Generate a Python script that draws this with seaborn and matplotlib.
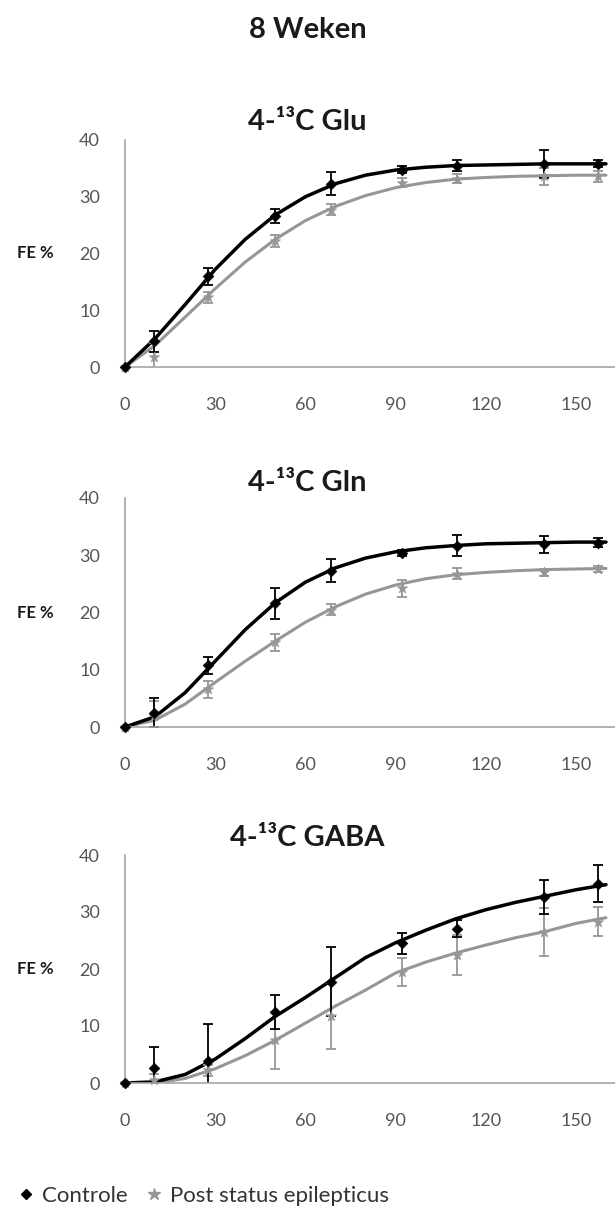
import matplotlib
matplotlib.use("Agg")
import matplotlib.pyplot as plt
import numpy as np
import seaborn as sns
from matplotlib.lines import Line2D

# measured time points (min) and fitted-curve grid
times = [0, 9.5, 27.5, 50, 68.5, 92, 110.5, 139.5, 157.5]
fit_t = [0, 10, 20, 30, 40, 50, 60, 70, 80, 90, 100, 110, 120, 130, 140, 150, 160]

# 4-13C Glu
glu_ctrl = [0, 4.5, 16.0, 26.6, 32.3, 34.8, 35.5, 35.8, 35.8]
glu_ctrl_err = [0, 1.8, 1.5, 1.2, 2.0, 0.6, 1.0, 2.5, 0.6]
glu_pse = [0, 1.8, 12.3, 22.2, 27.7, 32.5, 33.2, 33.6, 33.6]
glu_pse_err = [0, 2.5, 1.0, 1.0, 1.0, 0.8, 0.8, 1.5, 1.0]
glu_ctrl_fit = [0, 5.0, 11.0, 17.2, 22.5, 26.8, 30.0, 32.3, 33.8, 34.7, 35.2, 35.5, 35.6, 35.7, 35.8, 35.8, 35.8]
glu_pse_fit = [0, 3.8, 8.8, 13.8, 18.5, 22.5, 25.8, 28.3, 30.2, 31.6, 32.5, 33.1, 33.4, 33.6, 33.7, 33.8, 33.8]

# 4-13C Gln
gln_ctrl = [0, 2.5, 10.8, 21.6, 27.3, 30.4, 31.7, 31.9, 32.2]
gln_ctrl_err = [0, 2.5, 1.5, 2.7, 2.0, 0.5, 1.8, 1.5, 0.8]
gln_pse = [0, 2.0, 6.6, 14.8, 20.5, 24.2, 26.8, 27.0, 27.6]
gln_pse_err = [0, 2.5, 1.5, 1.5, 1.0, 1.5, 1.0, 0.6, 0.6]
gln_ctrl_fit = [0, 1.8, 6.0, 11.5, 17.0, 21.7, 25.3, 27.8, 29.5, 30.6, 31.3, 31.7, 32.0, 32.1, 32.2, 32.3, 32.3]
gln_pse_fit = [0, 1.2, 4.0, 7.8, 11.5, 15.0, 18.3, 21.0, 23.2, 24.8, 25.9, 26.6, 27.0, 27.3, 27.5, 27.6, 27.7]

# 4-13C GABA
gaba_ctrl = [0, 2.6, 3.8, 12.5, 17.8, 24.5, 27.1, 32.7, 35.0]
gaba_ctrl_err = [0, 3.8, 6.6, 3.0, 6.0, 1.8, 1.5, 3.0, 3.2]
gaba_pse = [0, 0.5, 2.2, 7.5, 11.8, 19.5, 22.5, 26.5, 28.3]
gaba_pse_err = [0, 1.0, 1.0, 5.0, 5.8, 2.5, 3.5, 4.2, 2.5]
gaba_ctrl_fit = [0, 0.2, 1.5, 4.2, 7.8, 11.7, 15.0, 18.5, 22.0, 24.6, 26.8, 28.8, 30.4, 31.7, 32.8, 33.9, 34.8]
gaba_pse_fit = [0, 0.0, 0.8, 2.5, 4.8, 7.5, 10.5, 13.5, 16.3, 19.3, 21.2, 22.8, 24.2, 25.5, 26.6, 28.0, 29.0]

panel_titles = ["4-\u00b9\u00b3C Glu", "4-\u00b9\u00b3C Gln", "4-\u00b9\u00b3C GABA"]
series_names = ["Controle", "Post status epilepticus"]
x_ticks = [0, 30, 60, 90, 120, 150]
y_ticks = [0, 10, 20, 30, 40]

panels = [
    (glu_ctrl, glu_ctrl_err, glu_pse, glu_pse_err, glu_ctrl_fit, glu_pse_fit),
    (gln_ctrl, gln_ctrl_err, gln_pse, gln_pse_err, gln_ctrl_fit, gln_pse_fit),
    (gaba_ctrl, gaba_ctrl_err, gaba_pse, gaba_pse_err, gaba_ctrl_fit, gaba_pse_fit),
]

sns.set_style("white")
plt.rcParams["font.family"] = ["Lato", "DejaVu Sans"]

BLACK = "#000000"
GREY = "#969696"
AXIS = "#a6a6a6"
TICKTXT = "#555555"
TXT = "#1a1a1a"

W, H = 615, 1209
fig = plt.figure(figsize=(W / 100, H / 100), dpi=100)

# axes boxes in pixels: (top, bottom)
boxes = [(140, 367), (498, 727), (855, 1083)]
title_y = [122, 483, 838]
left, right = 125, 615

fig.text(0.5, 1 - 30 / H, "8 Weken", ha="center", va="center",
         fontsize=21, fontweight="bold", color=TXT)

for (top, bot), ty, name, data in zip(boxes, title_y, panel_titles, panels):
    ctrl, ctrl_err, pse, pse_err, ctrl_fit, pse_fit = data
    ax = fig.add_axes([left / W, 1 - bot / H, (right - left) / W, (bot - top) / H])

    sns.lineplot(x=fit_t, y=pse_fit, color=GREY, lw=2.2, ax=ax)
    sns.lineplot(x=fit_t, y=ctrl_fit, color=BLACK, lw=2.5, ax=ax)
    ax.errorbar(times, pse, yerr=pse_err, fmt="none", ecolor=GREY,
                elinewidth=1.3, capsize=3.5, capthick=1.3)
    ax.errorbar(times, ctrl, yerr=ctrl_err, fmt="none", ecolor=BLACK,
                elinewidth=1.3, capsize=3.5, capthick=1.3)
    sns.scatterplot(x=times, y=pse, marker="*", s=60, color=GREY,
                    edgecolor=GREY, linewidth=0.5, ax=ax, clip_on=False, zorder=4)
    sns.scatterplot(x=times, y=ctrl, marker="D", s=30, color=BLACK,
                    edgecolor=BLACK, ax=ax, clip_on=False, zorder=5)

    ax.set_xlim(0, 163)
    ax.set_ylim(0, 40)
    ax.set_xticks(x_ticks)
    ax.set_yticks(y_ticks)
    for side in ("top", "right"):
        ax.spines[side].set_visible(False)
    for side in ("left", "bottom"):
        ax.spines[side].set_color(AXIS)
        ax.spines[side].set_linewidth(1.2)
    ax.tick_params(axis="x", direction="inout", length=7, width=1.1, color=AXIS,
                   pad=18, labelsize=13, labelcolor=TICKTXT)
    ax.tick_params(axis="y", direction="out", length=4, width=1.1, color=AXIS,
                   pad=14, labelsize=13, labelcolor=TICKTXT)
    ax.set_xlabel("")
    ax.set_ylabel("")
    ax.text(-0.184, 0.5, "FE %", transform=ax.transAxes, ha="center", va="center",
            fontsize=12, fontweight="bold", color=TXT)

    fig.text(0.5, 1 - ty / H, name, ha="center", va="center",
             fontsize=21, fontweight="bold", color=TXT)

handles = [
    Line2D([], [], ls="none", marker="D", ms=5, color=BLACK),
    Line2D([], [], ls="none", marker="*", ms=9, color=GREY),
]
fig.legend(handles, series_names, loc="center left", ncol=2,
           bbox_to_anchor=(0.01, 1 - 1196 / H), frameon=False, fontsize=16,
           handletextpad=0.2, columnspacing=0.7, handlelength=1.0,
           labelcolor="#333333", borderaxespad=0)

fig.savefig("out.png", dpi=100)
